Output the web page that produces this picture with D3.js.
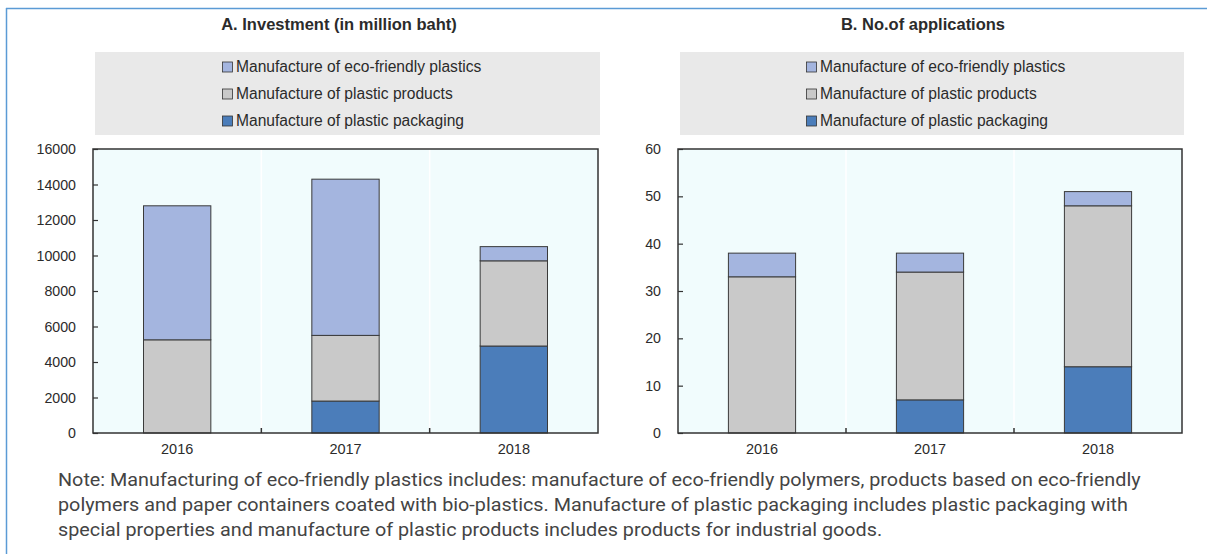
<!DOCTYPE html>
<html>
<head>
<meta charset="utf-8">
<script src="https://cdn.jsdelivr.net/npm/d3@7"></script>
<style>
  html, body { margin: 0; padding: 0; background: #ffffff; }
  svg { display: block; }
</style>
</head>
<body>
<script>
// Years on the category axis
const years = ["2016", "2017", "2018"];

// Series names (legend order, top to bottom)
const seriesNames = [
  "Manufacture of eco-friendly plastics",
  "Manufacture of plastic products",
  "Manufacture of plastic packaging"
];

// A. Investment (million baht), one value per year
const investPackaging = [0, 1800, 4900];
const investProducts  = [5250, 3700, 4800];
const investEco       = [7550, 8800, 800];
const investTicks     = [0, 2000, 4000, 6000, 8000, 10000, 12000, 14000, 16000];

// B. Number of applications, one value per year
const appsPackaging = [0, 7, 14];
const appsProducts  = [33, 27, 34];
const appsEco       = [5, 4, 3];
const appsTicks     = [0, 10, 20, 30, 40, 50, 60];

const noteLines = [
  "Note: Manufacturing of eco-friendly plastics includes: manufacture of eco-friendly polymers, products based on eco-friendly",
  "polymers and paper containers coated with bio-plastics. Manufacture of plastic packaging includes plastic packaging with",
  "special properties and manufacture of plastic products includes products for industrial goods."
];

const colors = {
  "Manufacture of eco-friendly plastics": "#a4b5df",
  "Manufacture of plastic products": "#c9c9c9",
  "Manufacture of plastic packaging": "#4b7dba"
};

const W = 1207, H = 554;
const sans = "'Liberation Sans', Arial, sans-serif";
const textColor = "#2b2b2b";

const svg = d3.select("body").append("svg")
  .attr("width", W).attr("height", H);

// Outer frame (left and top edges)
svg.append("line").attr("x1", 6.5).attr("x2", 6.5).attr("y1", 8).attr("y2", H)
  .attr("stroke", "#5b9bd5").attr("stroke-width", 1.5);
svg.append("line").attr("x1", 6).attr("x2", W).attr("y1", 8.5).attr("y2", 8.5)
  .attr("stroke", "#5b9bd5").attr("stroke-width", 1.5);

function drawPanel(cfg) {
  const g = svg.append("g");
  const order = ["Manufacture of plastic packaging", "Manufacture of plastic products", "Manufacture of eco-friendly plastics"];
  const rows = years.map((y, i) => ({
    year: y,
    "Manufacture of plastic packaging": cfg.packaging[i],
    "Manufacture of plastic products": cfg.products[i],
    "Manufacture of eco-friendly plastics": cfg.eco[i]
  }));
  const stacked = d3.stack().keys(order)(rows);

  const x = d3.scaleBand().domain(years)
    .range([cfg.left, cfg.right]).paddingInner(0.6).paddingOuter(0.3);
  const xCat = d3.scaleBand().domain(years).range([cfg.left, cfg.right]).padding(0);
  const y = d3.scaleLinear().domain([0, d3.max(cfg.ticks)]).range([cfg.bottom, cfg.top]);

  // Title
  g.append("text").attr("x", cfg.titleX).attr("y", 30)
    .attr("text-anchor", "middle")
    .style("font-family", sans).style("font-size", "16.5px").style("font-weight", "bold")
    .style("fill", textColor).text(cfg.title);

  // Legend
  g.append("rect").attr("x", cfg.legX0).attr("y", 52)
    .attr("width", cfg.legX1 - cfg.legX0).attr("height", 83).attr("fill", "#e9e9e9");
  seriesNames.forEach((name, i) => {
    const base = 71.5 + i * 27;
    g.append("rect").attr("x", cfg.legSq + 0.5).attr("y", base - 9.5)
      .attr("width", 10).attr("height", 10)
      .attr("fill", colors[name]).attr("stroke", "#333").attr("stroke-width", 0.8);
    g.append("text").attr("x", cfg.legSq + 14).attr("y", base)
      .style("font-family", sans).style("font-size", "15.6px").style("fill", textColor)
      .text(name);
  });

  // Plot background
  g.append("rect").attr("x", cfg.left).attr("y", cfg.top)
    .attr("width", cfg.right - cfg.left).attr("height", cfg.bottom - cfg.top)
    .attr("fill", "#f1fcfd");

  // Faint separators between categories
  years.slice(1).forEach(yr => {
    g.append("line").attr("x1", xCat(yr)).attr("x2", xCat(yr))
      .attr("y1", cfg.top).attr("y2", cfg.bottom)
      .attr("stroke", "#ffffff").attr("stroke-width", 1.5);
  });

  // Stacked bars
  stacked.forEach(layer => {
    g.append("g").selectAll("rect").data(layer.filter(d => d[1] - d[0] > 0)).join("rect")
      .attr("x", d => x(d.data.year))
      .attr("width", x.bandwidth())
      .attr("y", d => y(d[1]))
      .attr("height", d => y(d[0]) - y(d[1]))
      .attr("fill", colors[layer.key])
      .attr("stroke", "#3a3a3a").attr("stroke-width", 1);
  });

  // Y axis with short inward ticks
  const yAxis = d3.axisLeft(y).tickValues(cfg.ticks).tickSize(-5).tickPadding(17)
    .tickFormat(d3.format("d"));
  const ya = g.append("g").attr("transform", `translate(${cfg.left},0)`).call(yAxis);
  ya.select(".domain").remove();
  ya.selectAll(".tick line").attr("stroke", "#333").attr("stroke-width", 1.2);
  ya.selectAll("text").style("font-family", sans).style("font-size", "14.2px").style("fill", textColor);

  // Plot frame
  g.append("rect").attr("x", cfg.left).attr("y", cfg.top)
    .attr("width", cfg.right - cfg.left).attr("height", cfg.bottom - cfg.top)
    .attr("fill", "none").attr("stroke", "#333").attr("stroke-width", 1.5);

  // X axis: labels under bars, ticks at category boundaries
  const xAxis = d3.axisBottom(x).tickSize(0).tickPadding(11);
  const xa = g.append("g").attr("transform", `translate(0,${cfg.bottom})`).call(xAxis);
  xa.select(".domain").remove();
  xa.selectAll("text").style("font-family", sans).style("font-size", "14.5px").style("fill", textColor);
  years.slice(1).forEach(yr => {
    g.append("line").attr("x1", xCat(yr)).attr("x2", xCat(yr))
      .attr("y1", cfg.bottom).attr("y2", cfg.bottom - 5)
      .attr("stroke", "#333").attr("stroke-width", 1.5);
  });
}

drawPanel({
  title: "A. Investment (in million baht)", titleX: 339,
  left: 93, right: 598, top: 149, bottom: 433,
  legX0: 95, legX1: 600, legSq: 222,
  ticks: investTicks,
  packaging: investPackaging, products: investProducts, eco: investEco
});

drawPanel({
  title: "B. No.of applications", titleX: 923,
  left: 678, right: 1182, top: 149, bottom: 433,
  legX0: 680, legX1: 1184, legSq: 806,
  ticks: appsTicks,
  packaging: appsPackaging, products: appsProducts, eco: appsEco
});

// Note below the charts
svg.append("g").selectAll("text").data(noteLines).join("text")
  .attr("transform", (d, i) => `translate(58,${486 + i * 25}) scale(1.07,1)`)
  .style("font-family", "Roboto, sans-serif").style("font-size", "18.5px")
  .style("fill", "#444")
  .text(d => d);
</script>
</body>
</html>
